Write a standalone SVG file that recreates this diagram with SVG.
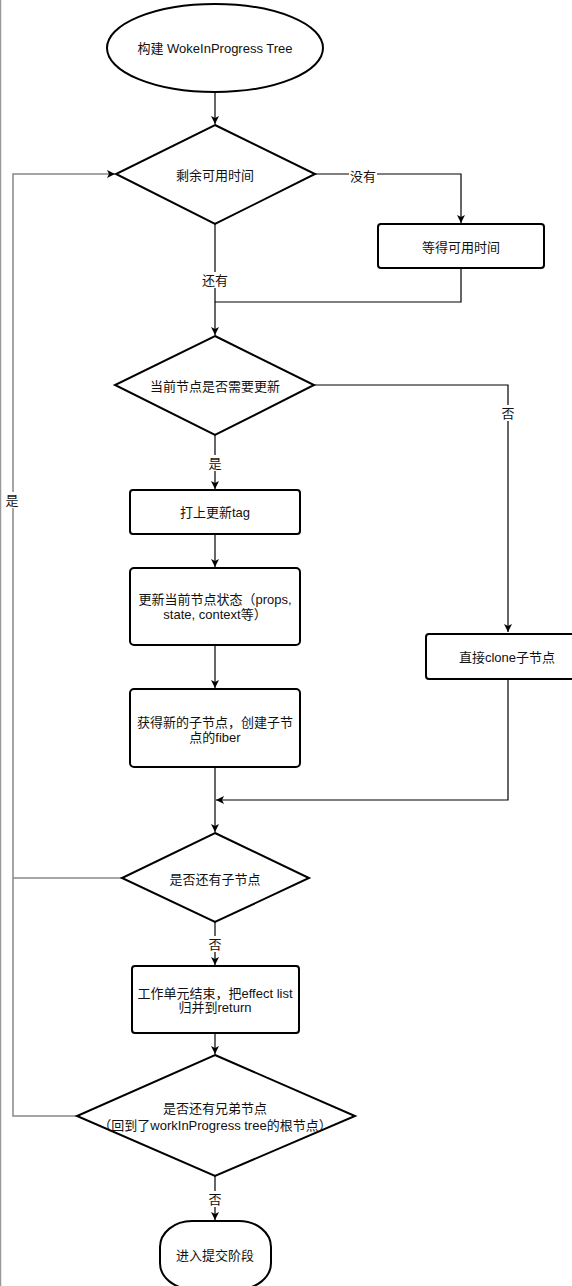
<svg xmlns="http://www.w3.org/2000/svg" width="572" height="1286" viewBox="0 0 572 1286">
<style>
.node{fill:#fff;stroke:#000;stroke-width:2}
.t{font-family:"Liberation Sans","Noto Sans CJK SC",sans-serif;font-size:13px;fill:#111;text-anchor:middle;dominant-baseline:central}
.c{fill:none;stroke:#000;stroke-width:1.2}
.g{fill:none;stroke:#888;stroke-width:1.5}
.lb{fill:#fff}
</style>
<defs>
<marker id="ah" markerUnits="userSpaceOnUse" markerWidth="9" markerHeight="9" refX="8" refY="4.5" orient="auto">
<path d="M0,0.5 L8,4.5 L0,8.5 L2,4.5 Z" fill="#000"/>
</marker>
</defs>
<rect width="572" height="1286" fill="#fff"/>
<line x1="0.5" y1="0" x2="0.5" y2="1286" stroke="#999" stroke-width="1.5"/>
<g id="connectors">
<path class="c" d="M215,92 V124" marker-end="url(#ah)"/>
<path class="c" d="M315,174 H461 V223" marker-end="url(#ah)"/>
<path class="c" d="M461,268 V302 H215"/>
<path class="c" d="M215,224 V335" marker-end="url(#ah)"/>
<path class="c" d="M314,385 H508 V632" marker-end="url(#ah)"/>
<path class="c" d="M215,435 V489" marker-end="url(#ah)"/>
<path class="c" d="M215,534 V567" marker-end="url(#ah)"/>
<path class="c" d="M215,645 V688" marker-end="url(#ah)"/>
<path class="c" d="M215,767 V832" marker-end="url(#ah)"/>
<path class="c" d="M508,679 V800 H216" marker-end="url(#ah)"/>
<path class="c" d="M215,922 V965" marker-end="url(#ah)"/>
<path class="c" d="M215,1033 V1054" marker-end="url(#ah)"/>
<path class="c" d="M215,1176 V1220" marker-end="url(#ah)"/>
<path class="g" d="M77,1116 H13 V174 H115" marker-end="url(#ah)"/>
<path class="g" d="M122,878 H13"/>
<rect class="lb" x="349" y="168" width="28" height="16"/>
<text class="t" x="363" y="176">没有</text>
<rect class="lb" x="200" y="272" width="30" height="16"/>
<text class="t" x="215" y="280">还有</text>
<rect class="lb" x="500" y="405" width="16" height="16"/>
<text class="t" x="508" y="413">否</text>
<rect class="lb" x="207" y="455" width="16" height="16"/>
<text class="t" x="215" y="463">是</text>
<rect class="lb" x="5" y="492" width="16" height="16"/>
<text class="t" x="12" y="500">是</text>
<rect class="lb" x="207" y="936" width="16" height="16"/>
<text class="t" x="215" y="944">否</text>
<rect class="lb" x="207" y="1191" width="16" height="16"/>
<text class="t" x="215" y="1199">否</text>
</g>
<g id="start">
<ellipse class="node" cx="215" cy="48" rx="108" ry="44" stroke-width="1.2"/>
<text class="t" x="215" y="48">构建 WokeInProgress Tree</text>
</g>
<g id="d-time">
<polygon class="node" points="215,125 315,174 215,224 116,174"/>
<text class="t" x="215" y="175">剩余可用时间</text>
</g>
<g id="wait">
<rect class="node" x="378" y="224" width="166" height="44" rx="3"/>
<text class="t" x="461" y="247">等得可用时间</text>
</g>
<g id="d-update">
<polygon class="node" points="215,336 314,385 215,435 115,385"/>
<text class="t" x="215" y="386">当前节点是否需要更新</text>
</g>
<g id="tag">
<rect class="node" x="130" y="490" width="170" height="44" rx="3"/>
<text class="t" x="215" y="512">打上更新tag</text>
</g>
<g id="state">
<rect class="node" x="130" y="568" width="170" height="77" rx="4"/>
<text class="t" x="215" y="599">更新当前节点状态（props,</text>
<text class="t" x="215" y="614">state, context等）</text>
</g>
<g id="fiber">
<rect class="node" x="130" y="689" width="170" height="78" rx="4"/>
<text class="t" x="215" y="722">获得新的子节点，创建子节</text>
<text class="t" x="215" y="737">点的fiber</text>
</g>
<g id="clone">
<rect class="node" x="426" y="634" width="164" height="45" rx="3"/>
<text class="t" x="507" y="657">直接clone子节点</text>
</g>
<g id="d-child">
<polygon class="node" points="215,833 309,878 215,922 122,878"/>
<text class="t" x="215" y="879">是否还有子节点</text>
</g>
<g id="finish">
<rect class="node" x="132" y="966" width="167" height="67" rx="3"/>
<text class="t" x="215" y="993">工作单元结束，把effect list</text>
<text class="t" x="215" y="1007">归并到return</text>
</g>
<g id="d-sibling">
<polygon class="node" points="215,1055 355,1116 215,1176 77,1116"/>
<text class="t" x="215" y="1108">是否还有兄弟节点</text>
<text class="t" x="215" y="1125">（回到了workInProgress tree的根节点）</text>
</g>
<g id="commit">
<rect class="node" x="160" y="1221" width="111" height="68" rx="32" ry="26"/>
<text class="t" x="215" y="1255">进入提交阶段</text>
</g>
</svg>
